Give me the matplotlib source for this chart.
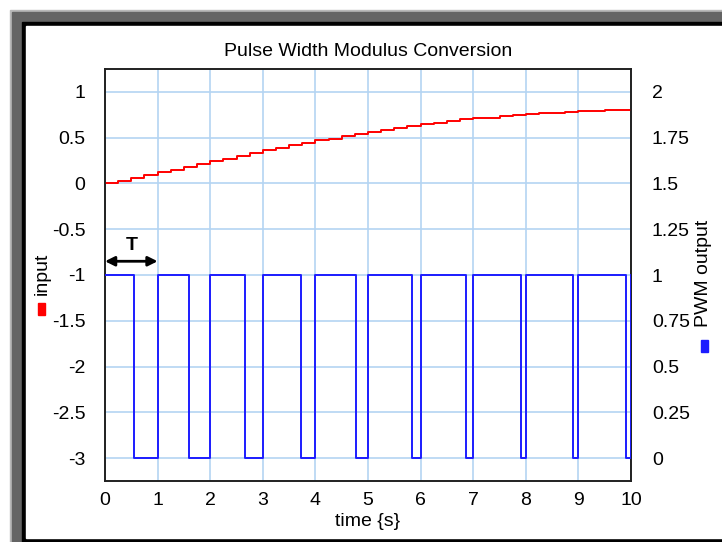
"""Pulse width modulation chart: stepped input (left axis) and PWM output (right axis)."""

import matplotlib

matplotlib.use("Agg")
import matplotlib.pyplot as plt
from matplotlib.patches import Rectangle

plt.rcParams["font.family"] = ["Liberation Sans", "DejaVu Sans"]
plt.rcParams["font.size"] = 14

# --------------------------------------------------------------- data

# input signal, sampled every 0.25 s and held
input_t = [0.0, 0.25, 0.5, 0.75, 1.0, 1.25, 1.5, 1.75, 2.0, 2.25, 2.5, 2.75,
           3.0, 3.25, 3.5, 3.75, 4.0, 4.25, 4.5, 4.75, 5.0, 5.25, 5.5, 5.75,
           6.0, 6.25, 6.5, 6.75, 7.0, 7.25, 7.5, 7.75, 8.0, 8.25, 8.5, 8.75,
           9.0, 9.25, 9.5, 9.75, 10.0]
input_vals = [0.00, 0.03, 0.06, 0.09, 0.12, 0.15, 0.18, 0.21, 0.24, 0.27,
              0.30, 0.33, 0.36, 0.39, 0.42, 0.44, 0.47, 0.49, 0.52, 0.54,
              0.56, 0.58, 0.61, 0.63, 0.65, 0.66, 0.68, 0.70, 0.71, 0.72,
              0.74, 0.75, 0.76, 0.77, 0.77, 0.78, 0.79, 0.79, 0.80, 0.80,
              0.80]

# PWM: each period starts high, drops low after `duty` seconds
pwm_period_start = [0, 1, 2, 3, 4, 5, 6, 7, 8, 9]
pwm_duty = [0.545, 0.60, 0.66, 0.72, 0.77, 0.83, 0.86, 0.90, 0.90, 0.90]
pwm_period = 1.0

left_ticks = [1, 0.5, 0, -0.5, -1, -1.5, -2, -2.5, -3]
left_labels = ["1", "0.5", "0", "-0.5", "-1", "-1.5", "-2", "-2.5", "-3"]
right_ticks = [2, 1.75, 1.5, 1.25, 1, 0.75, 0.5, 0.25, 0]
right_labels = ["2", "1.75", "1.5", "1.25", "1", "0.75", "0.5", "0.25", "0"]
x_ticks = [0, 1, 2, 3, 4, 5, 6, 7, 8, 9, 10]

RED = "#ff0000"
BLUE = "#1c1cff"
GRID = "#b4d4f2"

W, H = 722, 542


def fx(px):
    return px / W


def fy(py):
    return 1 - py / H


# --------------------------------------------------------------- figure

fig = plt.figure(figsize=(W / 100, H / 100), dpi=100)

# window frame (light edge, dark gray band, black inner line), behind the axes
frame = [(10, "#b8b8b8"), (12, "#646464"), (22, "#000000")]
for off, col in frame:
    fig.patches.append(Rectangle((fx(off), 0), 1 - fx(off), fy(off),
                                 transform=fig.transFigure, color=col, zorder=-10))
fig.patches.append(Rectangle((fx(26), fy(538)), 1 - fx(26), fy(26) - fy(538),
                             transform=fig.transFigure, color="white", zorder=-9))

ax = fig.add_axes([fx(105), fy(481), fx(631) - fx(105), fy(69) - fy(481)])
ax2 = ax.twinx()

# PWM step trace
pwm_x, pwm_y = [], []
for start, duty in zip(pwm_period_start, pwm_duty):
    pwm_x += [start, start + duty, start + duty, start + pwm_period]
    pwm_y += [1, 1, 0, 0]
pwm_x.append(pwm_period_start[-1] + pwm_period)
pwm_y.append(1)
ax2.plot(pwm_x, pwm_y, color=BLUE, lw=1.4, zorder=3)

ax.plot(input_t, input_vals, drawstyle="steps-post", color=RED, lw=1.4, zorder=3)

ax.set_xlim(0, 10)
ax.set_ylim(-3.25, 1.25)
ax2.set_ylim(-0.125, 2.125)
ax.set_xticks(x_ticks)
ax.set_xticklabels([str(t) for t in x_ticks])
ax.set_yticks(left_ticks)
ax.set_yticklabels(left_labels)
ax2.set_yticks(right_ticks)
ax2.set_yticklabels(right_labels)

ax.grid(True, color=GRID, lw=1.2, zorder=1)
ax.set_axisbelow(True)
ax.tick_params(axis="x", length=0, pad=8)
ax.tick_params(axis="y", length=0, pad=14)
ax2.tick_params(axis="y", length=0, pad=15)
for a in (ax, ax2):
    for s in a.spines.values():
        s.set_color("#202020")
        s.set_linewidth(1.2)

ax.set_title("Pulse Width Modulus Conversion", pad=9, fontsize=14)
ax.set_xlabel("time {s}", labelpad=3)

# period marker
ax.annotate("", xy=(0, -0.85), xytext=(1, -0.85),
            arrowprops=dict(arrowstyle="<|-|>", color="black", lw=2,
                            mutation_scale=14, shrinkA=0, shrinkB=0))
ax.text(0.5, -0.68, "T", ha="center", va="center", fontweight="bold")

# axis labels with colour keys
fig.text(fx(42.5), fy(273.5), "input", rotation=90, ha="center", va="center")
fig.patches.append(Rectangle((fx(38), fy(315)), fx(7), fy(303) - fy(315),
                             transform=fig.transFigure, color=RED))
fig.text(fx(704), fy(273), "PWM output", rotation=90, ha="center", va="center")
fig.patches.append(Rectangle((fx(701), fy(352)), fx(7), fy(340) - fy(352),
                             transform=fig.transFigure, color=BLUE))

fig.savefig("out.png", dpi=100)
plt.close(fig)
